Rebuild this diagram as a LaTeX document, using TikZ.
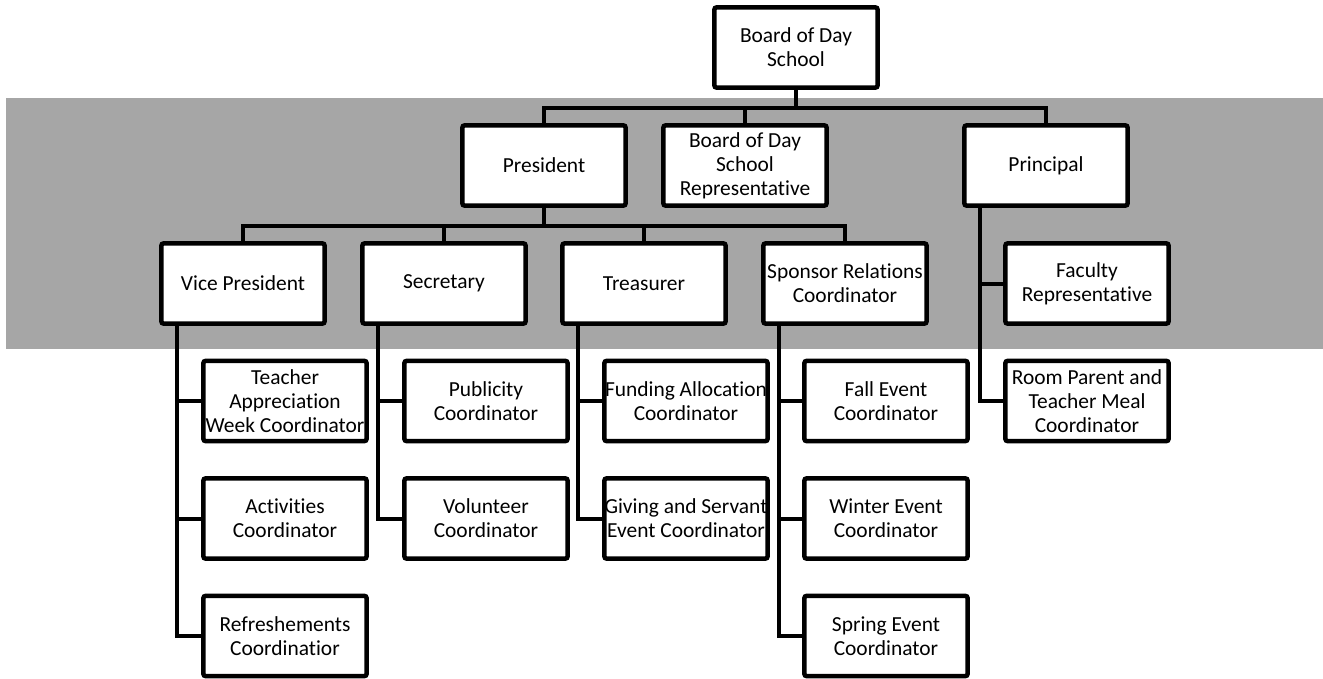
\documentclass[tikz,border=0pt]{standalone}
\usepackage{fontspec}
\setmainfont{Carlito}[Ligatures=NoCommon]
\definecolor{band}{HTML}{A6A6A6}
\begin{document}
\begin{tikzpicture}[x=0.02cm,y=-0.02cm,every node/.style={font=\fontsize{12.2}{13.7}\selectfont},box/.style={draw=black,fill=white,line width=.09cm,rounded corners=1.5pt,minimum width=3.27cm,minimum height=1.61cm,inner sep=0pt,align=center},link/.style={black,line width=.08cm}]
\useasboundingbox (0,0) rectangle (1323,679);
\fill[band] (6,98) rectangle (1323,349);
\node[box] (board) at (796,47.5){Board of Day\\School};
\node[box] (pres) at (544,165.5){President};\node[box] (rep) at (745,165.5){Board of Day\\School\\Representative};\node[box] (princ) at (1046,165.5){Principal};
\node[box] (vp) at (243,283.5){Vice President};\node[box] (sec) at (444,283.5){Secretary};\node[box] (treas) at (644,283.5){Treasurer};\node[box] (spons) at (845,283.5){Sponsor Relations\\Coordinator};
\node[box] (faculty) at (1087,283.5){Faculty\\Representative};\node[box] (room) at (1087,401){Room Parent and\\Teacher Meal\\Coordinator};
\node[box] (teacher) at (285,401){Teacher\\Appreciation\\Week Coordinator};\node[box] (activ) at (285,518.5){Activities\\Coordinator};\node[box] (refresh) at (285,636){Refreshements\\Coordinatior};
\node[box] (public) at (486,401){Publicity\\Coordinator};\node[box] (volunt) at (486,518.5){Volunteer\\Coordinator};
\node[box] (fund) at (686,401){Funding Allocation\\Coordinator};\node[box] (giving) at (686,518.5){Giving and Servant\\Event Coordinator};
\node[box] (fall) at (886,401){Fall Event\\Coordinator};\node[box] (winter) at (886,518.5){Winter Event\\Coordinator};\node[box] (spring) at (886,636){Spring Event\\Coordinator};
\foreach \c in {pres,rep,princ}{\draw[link] (board.south)--++(0,18)-|(\c.north);}
\foreach \c in {vp,sec,treas,spons}{\draw[link] (pres.south)--++(0,18)-|(\c.north);}
\foreach \p/\c in {vp/teacher,vp/activ,vp/refresh,sec/public,sec/volunt,treas/fund,treas/giving,spons/fall,spons/winter,spons/spring,princ/faculty,princ/room}{\draw[link] ([xshift=-1.32cm]\p.south)|-(\c.west);}
\end{tikzpicture}
\end{document}
